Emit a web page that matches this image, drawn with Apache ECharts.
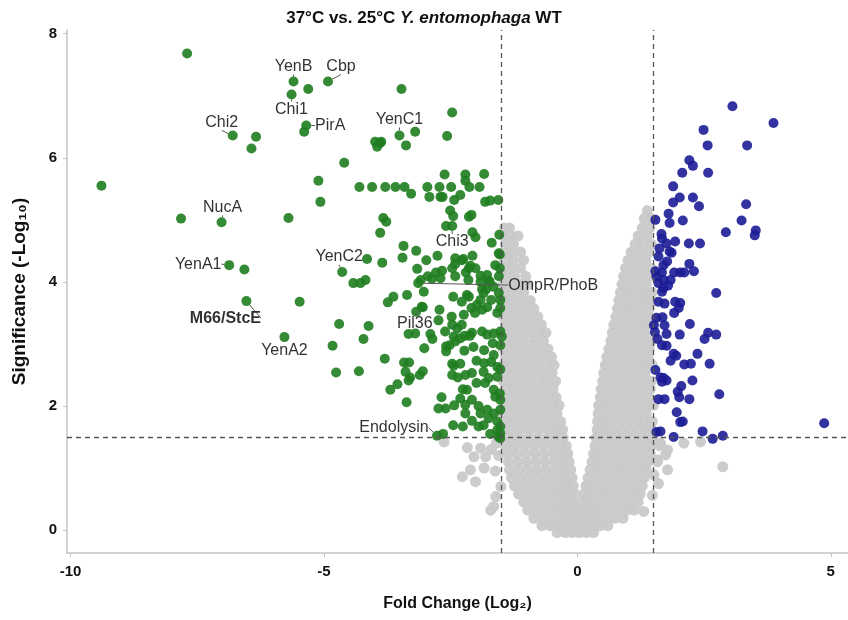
<!DOCTYPE html>
<html>
<head>
<meta charset="utf-8">
<script src="https://cdn.jsdelivr.net/npm/echarts@6/dist/echarts.min.js"></script>
<style>html,body{margin:0;padding:0;background:#fff}#chart{width:848px;height:620px}</style>
</head>
<body>
<div id="chart"></div>
<script>
/* ticks */
const xTicks = [-10, -5, 0, 5];
const yTicks = [0, 2, 4, 6, 8];
/* cut-offs: |log2 FC| = 1.5, -log10 p = 1.5 */
const fcCut = 1.5;
const sigCut = 1.5;

/* named proteins: [name, log2FC, -log10 p] */
const named = [
    ['YenB', -5.60, 7.23],
    ['Cbp', -4.92, 7.23],
    ['Chi1', -5.64, 7.02],
    ['PirA', -5.35, 6.52],
    ['Chi2', -6.80, 6.36],
    ['YenC1', -3.51, 6.36],
    ['NucA', -7.02, 4.96],
    ['YenA1', -6.87, 4.27],
    ['YenC2', -4.64, 4.16],
    ['Chi3', -2.47, 4.90],
    ['OmpR/PhoB', -3.14, 3.98],
    ['M66/StcE', -6.53, 3.69],
    ['Pil36', -3.05, 3.59],
    ['YenA2', -5.78, 3.11],
    ['Endolysin', -2.77, 1.52]
];

/* higher at 25°C (green) */
const downPts = [
    [-7.70,7.68],[-9.39,5.55],[-5.31,7.11],[-3.47,7.11],[-2.47,6.73],[-6.34,6.34],[-6.43,6.15],
    [-5.39,6.42],[-3.20,6.42],[-2.57,6.35],[-3.99,6.26],[-3.89,6.24],[-3.95,6.18],[-3.87,6.26],
    [-3.38,6.20],[-4.60,5.92],[-5.11,5.63],[-5.07,5.29],[-7.82,5.02],[-5.70,5.03],
    [-4.30,5.53],[-4.05,5.53],[-3.79,5.53],[-3.59,5.53],[-3.41,5.53],[-2.96,5.53],[-2.72,5.53],
    [-2.49,5.53],[-2.13,5.53],[-1.93,5.53],[-3.28,5.42],[-2.62,5.73],[-2.21,5.73],[-1.84,5.74],
    [-2.21,5.63],[-2.92,5.37],[-2.70,5.37],[-2.66,5.37],[-2.43,5.32],[-2.31,5.40],
    [-1.82,5.29],[-1.72,5.31],[-1.56,5.32],[-3.83,5.03],[-3.77,4.97],[-3.89,4.79],
    [-2.51,5.15],[-2.45,5.06],[-2.14,5.05],[-2.09,5.08],[-2.07,4.80],[-2.01,4.72],
    [-1.69,4.63],[-1.54,4.76],[-3.43,4.58],[-3.18,4.50],[-4.15,4.37],[-3.85,4.31],
    [-3.45,4.39],[-2.98,4.35],[-2.76,4.42],[-3.16,4.21],[-2.95,4.09],[-2.87,4.05],
    [-2.79,4.15],[-2.67,4.18],[-2.70,4.06],[-2.41,4.29],[-2.25,4.37],[-2.07,4.42],
    [-2.41,4.09],[-2.20,4.15],[-2.11,4.26],[-2.15,4.03],[-1.91,4.00],[-1.75,4.02],
    [-1.53,4.22],[-1.53,4.44],[-4.42,3.98],[-4.28,3.98],[-4.18,4.03],[-3.09,4.03],
    [-1.88,3.88],[-1.80,3.88],[-1.73,4.00],[-3.63,3.76],[-3.36,3.79],[-3.03,3.84],
    [-2.45,3.76],[-2.18,3.79],[-5.48,3.68],[-2.28,3.68],[-1.91,3.71],[-1.70,3.71],
    [-1.85,3.82],[-3.74,3.67],[-3.18,3.52],[-2.72,3.55],[-2.48,3.44],[-2.24,3.47],
    [-2.09,3.58],[-2.02,3.50],[-1.88,3.55],[-1.78,3.59],[-1.52,3.71],[-1.52,3.58],
    [-4.70,3.32],[-4.12,3.29],[-4.83,2.97],[-4.22,3.08],[-3.33,3.16],[-3.20,3.17],
    [-2.90,3.16],[-2.86,3.08],[-2.74,3.38],[-2.61,3.20],[-2.47,3.31],[-2.37,3.25],
    [-2.28,3.31],[-2.44,3.12],[-2.31,3.09],[-2.22,3.13],[-2.12,3.13],[-2.08,3.18],
    [-1.88,3.20],[-1.78,3.15],[-1.65,3.17],[-1.52,3.20],[-1.49,3.12],[-2.59,2.96],
    [-2.59,2.88],[-2.52,2.98],[-2.41,3.04],[-2.23,2.89],[-2.05,2.95],[-1.84,2.90],
    [-1.67,3.01],[-1.52,2.98],[-1.65,2.82],[-3.02,2.93],[-3.80,2.76],[-4.76,2.54],
    [-4.31,2.56],[-3.42,2.70],[-3.32,2.70],[-3.39,2.55],[-3.30,2.46],[-3.33,2.41],
    [-3.11,2.50],[-3.05,2.56],[-3.55,2.35],[-3.69,2.26],[-3.37,2.06],[-2.47,2.68],
    [-2.44,2.65],[-2.31,2.68],[-1.99,2.73],[-1.84,2.69],[-1.70,2.71],[-1.58,2.63],
    [-1.52,2.59],[-2.47,2.50],[-2.36,2.46],[-2.21,2.50],[-2.08,2.53],[-1.85,2.55],
    [-1.75,2.45],[-1.58,2.47],[-2.26,2.27],[-2.18,2.26],[-1.99,2.37],[-1.82,2.37],
    [-1.65,2.26],[-1.53,2.20],[-1.62,2.15],[-1.52,2.10],[-2.68,2.14],[-2.74,1.96],
    [-2.60,1.96],[-2.43,2.01],[-2.31,2.12],[-2.21,2.02],[-2.21,1.88],[-2.08,2.10],
    [-1.95,2.00],[-1.91,1.88],[-1.78,1.94],[-1.75,1.80],[-1.65,1.88],[-1.58,1.75],
    [-1.52,1.94],[-1.52,1.67],[-2.45,1.69],[-2.26,1.67],[-2.08,1.76],[-1.95,1.67],
    [-1.85,1.69],[-1.72,1.55],[-1.58,1.61],[-1.52,1.56],[-2.65,1.55],[-1.55,1.50],
    [-1.52,1.48],[-6.57,4.20],[-2.59,4.90],[-2.41,4.38],[-2.28,4.35],[-2.47,4.22],
    [-2.14,4.22],[-2.01,4.22],[-1.91,4.10],[-1.78,4.11],[-1.62,4.27],[-1.55,4.46],
    [-1.55,4.09],[-1.65,3.92],[-3.07,3.60],[-2.14,3.76],[-1.98,3.63],[-1.55,3.82],
    [-1.58,3.50]
];

/* higher at 37°C (blue) */
const upPts = [
    [3.06,6.83],[3.87,6.56],[2.49,6.45],[2.57,6.20],[3.35,6.20],[2.21,5.96],[2.28,5.87],
    [2.07,5.76],[2.58,5.76],[1.89,5.54],[1.89,5.28],[2.02,5.36],[2.28,5.36],[2.40,5.22],
    [3.33,5.25],[1.80,5.10],[1.82,4.95],[1.54,5.00],[2.08,4.99],[3.24,4.99],[2.93,4.80],
    [3.52,4.83],[3.50,4.75],[1.66,4.77],[1.67,4.70],[1.93,4.65],[2.20,4.62],[2.42,4.62],
    [1.76,4.62],[1.62,4.54],[1.82,4.49],[1.86,4.47],[1.60,4.41],[1.77,4.33],[1.70,4.27],
    [2.21,4.29],[2.30,4.17],[1.54,4.17],[1.56,4.09],[1.67,4.15],[1.91,4.15],[2.03,4.15],
    [2.11,4.15],[1.84,4.03],[1.70,4.03],[1.60,3.98],[1.70,3.90],[1.79,3.94],[1.67,3.84],
    [2.74,3.82],[1.60,3.68],[1.72,3.65],[1.93,3.68],[2.03,3.66],[2.00,3.58],[1.91,3.50],
    [1.56,3.42],[1.68,3.43],[1.51,3.30],[1.72,3.30],[2.22,3.32],[1.53,3.19],[1.76,3.16],
    [2.02,3.15],[2.58,3.18],[2.74,3.15],[2.51,3.08],[1.58,3.08],[1.67,2.98],[1.76,2.97],
    [1.90,2.84],[1.95,2.81],[1.84,2.73],[2.37,2.84],[2.11,2.67],[2.24,2.68],[2.61,2.68],
    [1.54,2.58],[1.64,2.46],[1.70,2.45],[1.76,2.41],[1.67,2.39],[2.27,2.41],[2.05,2.32],
    [1.98,2.23],[2.01,2.14],[2.21,2.11],[2.80,2.19],[1.60,2.11],[1.72,2.11],[1.96,1.90],
    [2.03,1.74],[2.08,1.75],[4.87,1.72],[1.56,1.58],[1.64,1.59],[1.90,1.50],[2.47,1.59],
    [2.67,1.47],[2.87,1.52]
];

/* not significant (grey): rows of [-log10 p, [log2FC ...]] */
const nsRows = [
    [5.15, [1.38]],
    [5.02, [1.32, 1.45]],
    [4.87, [-1.44, -1.34, 1.28, 1.43]],
    [4.74, [-1.46, -1.30, -1.17, 1.20, 1.38]],
    [4.61, [-1.42, -1.26, 1.14, 1.30, 1.46]],
    [4.48, [-1.46, -1.30, -1.12, 1.06, 1.24, 1.41]],
    [4.35, [-1.43, -1.26, -1.06, 1.00, 1.17, 1.35]],
    [4.22, [-1.46, -1.30, -1.12, 0.95, 1.12, 1.29, 1.46]],
    [4.09, [-1.42, -1.24, -1.02, 0.91, 1.07, 1.24, 1.41]],
    [3.96, [-1.46, -1.30, -1.13, -0.97, 0.88, 1.04, 1.20, 1.36]],
    [3.83, [-1.43, -1.26, -1.06, 0.85, 1.00, 1.16, 1.32, 1.47]],
    [3.70, [-1.46, -1.30, -1.12, -0.93, 0.82, 0.98, 1.14, 1.30, 1.45]],
    [3.57, [-1.42, -1.24, -1.05, -0.86, 0.79, 0.95, 1.10, 1.26, 1.42]],
    [3.44, [-1.46, -1.30, -1.12, -0.95, -0.78, 0.76, 0.92, 1.08, 1.24, 1.40]],
    [3.31, [-1.42, -1.24, -1.06, -0.88, -0.71, 0.72, 0.88, 1.04, 1.20, 1.36, 1.48]],
    [3.18, [-1.46, -1.30, -1.11, -0.93, -0.76, -0.62, 0.69, 0.85, 1.01, 1.17, 1.33]],
    [3.05, [-1.42, -1.24, -1.06, -0.86, -0.67, 0.66, 0.82, 0.98, 1.14, 1.30, 1.46]],
    [2.92, [-1.46, -1.30, -1.12, -0.95, -0.76, -0.58, 0.62, 0.78, 0.94, 1.10, 1.26, 1.42]],
    [2.79, [-1.42, -1.25, -1.06, -0.88, -0.69, -0.51, 0.58, 0.75, 0.91, 1.08, 1.24, 1.40]],
    [2.66, [-1.46, -1.30, -1.12, -0.94, -0.76, -0.59, -0.46, 0.55, 0.72, 0.88, 1.04, 1.20, 1.36, 1.48]],
    [2.53, [-1.42, -1.24, -1.06, -0.88, -0.69, -0.50, 0.52, 0.68, 0.85, 1.01, 1.18, 1.34]],
    [2.40, [-1.46, -1.30, -1.12, -0.94, -0.75, -0.57, -0.43, 0.50, 0.66, 0.82, 0.98, 1.14, 1.30, 1.46]],
    [2.27, [-1.42, -1.24, -1.05, -0.86, -0.67, -0.48, 0.47, 0.63, 0.80, 0.96, 1.12, 1.28, 1.44]],
    [2.14, [-1.46, -1.30, -1.12, -0.94, -0.76, -0.58, -0.42, 0.45, 0.60, 0.76, 0.92, 1.08, 1.24, 1.40]],
    [2.01, [-1.42, -1.24, -1.05, -0.86, -0.67, -0.49, -0.36, 0.42, 0.58, 0.74, 0.90, 1.06, 1.22, 1.38, 1.50]],
    [1.88, [-1.46, -1.30, -1.12, -0.94, -0.75, -0.57, -0.40, 0.41, 0.56, 0.72, 0.88, 1.04, 1.20, 1.36]],
    [1.75, [-1.42, -1.24, -1.05, -0.86, -0.68, -0.50, -0.33, 0.40, 0.54, 0.70, 0.86, 1.02, 1.18, 1.34, 1.48]],
    [1.62, [-1.46, -1.30, -1.12, -0.94, -0.76, -0.58, -0.42, -0.29, 0.39, 0.55, 0.70, 0.86, 1.02, 1.18, 1.34, 1.46]],
    [1.49, [-1.50, -1.33, -1.15, -0.96, -0.78, -0.60, -0.44, -0.28, 0.37, 0.52, 0.68, 0.84, 1.00, 1.16, 1.32, 1.48]],
    [1.36, [-1.42, -1.24, -1.05, -0.86, -0.68, -0.50, -0.34, -0.22, 0.35, 0.50, 0.66, 0.82, 0.98, 1.14, 1.30, 1.46, 1.62]],
    [1.23, [-1.38, -1.20, -1.02, -0.84, -0.66, -0.48, -0.32, -0.19, 0.32, 0.47, 0.63, 0.80, 0.96, 1.12, 1.28, 1.44]],
    [1.10, [-1.36, -1.18, -1.00, -0.82, -0.64, -0.46, -0.30, -0.16, 0.29, 0.44, 0.60, 0.76, 0.92, 1.08, 1.24, 1.40, 1.58]],
    [0.97, [-1.34, -1.16, -0.98, -0.80, -0.62, -0.44, -0.28, -0.13, 0.25, 0.40, 0.56, 0.72, 0.88, 1.04, 1.20, 1.36]],
    [0.84, [-1.30, -1.12, -0.94, -0.76, -0.58, -0.40, -0.24, -0.10, 0.21, 0.36, 0.52, 0.68, 0.84, 1.00, 1.16, 1.32]],
    [0.71, [-1.24, -1.06, -0.88, -0.70, -0.52, -0.36, -0.20, -0.08, 0.17, 0.32, 0.48, 0.64, 0.80, 0.96, 1.12, 1.28]],
    [0.58, [-1.16, -0.98, -0.80, -0.62, -0.45, -0.30, -0.16, -0.05, 0.13, 0.28, 0.44, 0.60, 0.76, 0.92, 1.08, 1.24]],
    [0.45, [-1.06, -0.88, -0.70, -0.53, -0.37, -0.22, -0.09, 0.10, 0.24, 0.40, 0.56, 0.72, 0.88, 1.04, 1.20]],
    [0.32, [-0.98, -0.80, -0.62, -0.45, -0.30, -0.16, -0.04, 0.07, 0.20, 0.35, 0.50, 0.66, 0.82, 0.98, 1.12]],
    [0.19, [-0.86, -0.68, -0.52, -0.36, -0.22, -0.09, 0.02, 0.14, 0.28, 0.43, 0.58, 0.74, 0.90]],
    [0.07, [-0.70, -0.54, -0.38, -0.24, -0.10, 0.03, 0.16, 0.30, 0.45, 0.60]],
    [-0.04, [-0.40, -0.24, -0.10, 0.04, 0.18, 0.32]]
];
/* scattered grey points outside the V */
const nsExtra = [
    [-2.63,1.42],[-2.17,1.33],[-1.91,1.32],[-2.04,1.18],[-1.81,1.18],[-2.11,0.97],[-1.84,1.00],
    [-2.27,0.86],[-2.01,0.78],[-1.51,0.70],[-1.61,0.54],[-1.65,0.38],[-1.71,0.32],[-1.60,1.40],
    [-1.70,1.30],[-1.55,1.20],[-1.62,0.95],
    [1.64,1.40],[1.78,1.29],[1.58,1.13],[1.78,0.97],[1.51,0.89],[1.48,0.56],[1.31,0.30],
    [2.10,1.40],[2.43,1.42],[1.74,1.21],[2.87,1.02],[1.60,0.75]
];

/* label offsets (px from point centre to label centre) */
const labelOffsets = {
    'YenB': [0, -15], 'Cbp': [13, -15], 'Chi1': [0, 15], 'PirA': [24, 0],
    'Chi2': [-11, -13], 'YenC1': [0, -16], 'NucA': [1, -15], 'YenA1': [-31, -1],
    'YenC2': [-3, -15], 'Chi3': [0, 16], 'OmpR/PhoB': [135, 2], 'M66/StcE': [-21, 17],
    'Pil36': [-8, 16], 'YenA2': [0, 13], 'Endolysin': [-43, -8]
};

const nsPts = [];
nsRows.forEach(function (r) { r[1].forEach(function (x) { nsPts.push([x, r[0]]); }); });
nsExtra.forEach(function (p) { nsPts.push(p); });

const sans = "'Liberation Sans', Arial, sans-serif";

const chart = echarts.init(document.getElementById('chart'));

const option = {
    animation: false,
    backgroundColor: '#fff',
    title: {
        left: 'center',
        top: 5,
        text: '{b|37°C vs. 25°C }{i|Y. entomophaga}{b| WT}',
        textStyle: {
            rich: {
                b: {fontFamily: sans, fontWeight: 'bold', fontSize: 17, color: '#111'},
                i: {fontFamily: sans, fontWeight: 'bold', fontStyle: 'italic', fontSize: 17, color: '#111'}
            }
        }
    },
    grid: {left: 67, right: 0, top: 30, bottom: 67},
    xAxis: {
        type: 'value',
        min: -10.07,
        max: 5.34,
        name: 'Fold Change (Log₂)',
        nameLocation: 'middle',
        nameGap: 43,
        nameTextStyle: {fontFamily: sans, fontWeight: 'bold', fontSize: 16, color: '#111'},
        axisLine: {show: true, onZero: false, lineStyle: {color: '#c4c4c4', width: 1.5}},
        axisTick: {show: true, length: 4, customValues: xTicks, lineStyle: {color: '#c4c4c4'}},
        axisLabel: {customValues: xTicks, margin: 11, fontFamily: sans, fontWeight: 'bold', fontSize: 15, color: '#111'},
        splitLine: {show: false}
    },
    yAxis: {
        type: 'value',
        min: -0.37,
        max: 8.06,
        name: 'Significance (-Log₁₀)',
        nameLocation: 'middle',
        nameGap: 38,
        nameTextStyle: {fontFamily: sans, fontWeight: 'bold', fontSize: 19, color: '#111'},
        axisLine: {show: true, onZero: false, lineStyle: {color: '#c4c4c4', width: 1.5}},
        axisTick: {show: true, length: 4, customValues: yTicks, lineStyle: {color: '#c4c4c4'}},
        axisLabel: {customValues: yTicks, margin: 10, fontFamily: sans, fontWeight: 'bold', fontSize: 15, color: '#111'},
        splitLine: {show: false}
    },
    series: [
        {
            name: 'ns',
            type: 'scatter',
            z: 1,
            symbolSize: 11,
            itemStyle: {color: '#c9c9c9', opacity: 0.95},
            data: nsPts
        },
        {
            name: 'cutoffs',
            type: 'scatter',
            z: 2,
            data: [],
            markLine: {
                silent: true,
                symbol: 'none',
                label: {show: false},
                lineStyle: {color: '#555', width: 1.3, type: [5, 4]},
                data: [{xAxis: -fcCut}, {xAxis: fcCut}, {yAxis: sigCut}]
            }
        },
        {
            name: 'down',
            type: 'scatter',
            z: 3,
            symbolSize: 10,
            itemStyle: {color: '#1f7d1f', opacity: 0.9},
            data: downPts
        },
        {
            name: 'up',
            type: 'scatter',
            z: 3,
            symbolSize: 10,
            itemStyle: {color: '#1c1c96', opacity: 0.9},
            data: upPts
        },
        {
            name: 'named',
            type: 'scatter',
            z: 4,
            symbolSize: 10,
            itemStyle: {color: '#1f7d1f', opacity: 0.9},
            data: named.map(function (d) {
                return {
                    name: d[0],
                    value: [d[1], d[2]],
                    label: d[0] === 'M66/StcE' ? {fontWeight: 'bold'} : {}
                };
            }),
            label: {
                show: true,
                position: 'inside',
                formatter: '{b}',
                fontFamily: sans,
                fontSize: 16,
                color: '#1a1a1a'
            },
            labelLine: {show: true, lineStyle: {color: '#555', width: 1}},
            labelLayout: function (params) {
                const off = labelOffsets[named[params.dataIndex][0]];
                return {dx: off[0], dy: off[1]};
            }
        }
    ]
};

chart.setOption(option);
</script>
</body>
</html>
